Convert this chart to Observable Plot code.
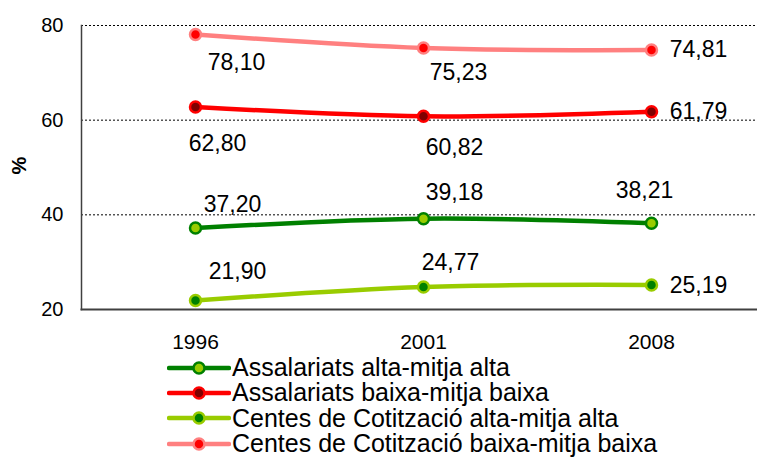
<!DOCTYPE html>
<html>
<head>
<meta charset="utf-8">
<script src="https://cdn.jsdelivr.net/npm/d3@7"></script>
<script src="https://cdn.jsdelivr.net/npm/@observablehq/plot@0.6"></script>
<style>
  html, body { margin: 0; padding: 0; background: #fff; }
  body { font-family: "Liberation Sans", Arial, sans-serif; width: 757px; height: 457px; overflow: hidden; }
  #legend { margin: 0; padding: 0; }
  .row { display: flex; align-items: center; height: 25.3px; font-size: 25px; line-height: 25px; color: #000; white-space: nowrap; }
  .row svg { margin-left: 167px; margin-right: 1px; flex: none; }
</style>
</head>
<body>
<div id="chart"></div>
<div id="legend"></div>
<script>
// ---- data ----
const years = ["1996", "2001", "2008"];
const seriesNames = [
  "Assalariats alta-mitja alta",
  "Assalariats baixa-mitja baixa",
  "Centes de Cotització alta-mitja alta",
  "Centes de Cotització baixa-mitja baixa"
];
const assalariatsAlta = [37.20, 39.18, 38.21];
const assalariatsBaixa = [62.80, 60.82, 61.79];
const centesAlta = [21.90, 24.77, 25.19];
const centesBaixa = [78.10, 75.23, 74.81];
const yTicks = [20, 40, 60, 80];

// ---- styles ----
const values = [assalariatsAlta, assalariatsBaixa, centesAlta, centesBaixa];
const lineColors = ["#008000", "#FF0000", "#99CC00", "#FF8080"];
const dotFills = ["#99CC00", "#800000", "#008000", "#FF0000"];
// label offsets (center of text relative to the point), per series per year
const labelOffsets = [
  [[37, -23], [31, -26], [-7, -33]],
  [[22, 37], [31, 31], [47, 0]],
  [[42, -29], [27, -24], [47, 1]],
  [[41, 28], [35, 25], [47, 0]]
];

const fmt = v => v.toFixed(2).replace(".", ",");

const marks = [];
marks.push(Plot.ruleY([40, 60, 80], {stroke: "#000", strokeWidth: 1, strokeDasharray: "2,2"}));
marks.push(Plot.frame({anchor: "left", stroke: "#404040", strokeWidth: 1.5}));
marks.push(Plot.frame({anchor: "bottom", stroke: "#404040", strokeWidth: 2}));

values.forEach((vals, i) => {
  const rows = years.map((y, j) => ({year: y, value: vals[j]}));
  marks.push(Plot.line(rows, {x: "year", y: "value", stroke: lineColors[i], strokeWidth: 4.5, curve: "catmull-rom"}));
});
values.forEach((vals, i) => {
  const rows = years.map((y, j) => ({year: y, value: vals[j]}));
  marks.push(Plot.dot(rows, {x: "year", y: "value", r: 5.5, fill: dotFills[i], stroke: lineColors[i], strokeWidth: 2.5}));
});
values.forEach((vals, i) => {
  years.forEach((y, j) => {
    const [dx, dy] = labelOffsets[i][j];
    marks.push(Plot.text([{year: y, value: vals[j]}], {
      x: "year", y: "value", text: d => fmt(d.value),
      dx, dy, textAnchor: "middle", lineAnchor: "middle", fontSize: 23, fill: "#000"
    }));
  });
});

marks.push(Plot.axisY({ticks: yTicks, tickSize: 0, tickPadding: 18, fontSize: 20, label: null, tickFormat: d => String(d)}));
marks.push(Plot.axisX({tickSize: 0, tickPadding: 25, fontSize: 21, label: null}));
marks.push(Plot.text(["%"], {frameAnchor: "left", dx: -62, dy: 7, rotate: -90, fontSize: 20, fontWeight: "bold", fill: "#000", text: d => d}));

const chart = Plot.plot({
  width: 757,
  height: 355,
  marginTop: 25,
  marginBottom: 46,
  marginLeft: 81,
  marginRight: -8,
  x: {type: "point", domain: years, padding: 0.5},
  y: {domain: [20, 80]},
  style: {fontFamily: "'Liberation Sans', Arial, sans-serif", color: "#000", background: "#fff", overflow: "hidden"},
  marks
});
document.getElementById("chart").appendChild(chart);

// legend
const legend = d3.select("#legend");
seriesNames.forEach((name, i) => {
  const row = legend.append("div").attr("class", "row");
  const svg = row.append("svg").attr("width", 64).attr("height", 16);
  svg.append("line").attr("x1", 2).attr("x2", 62).attr("y1", 8).attr("y2", 8)
    .attr("stroke", lineColors[i]).attr("stroke-width", 4.5).attr("stroke-linecap", "round");
  svg.append("circle").attr("cx", 32).attr("cy", 8).attr("r", 5.5)
    .attr("fill", dotFills[i]).attr("stroke", lineColors[i]).attr("stroke-width", 2.5);
  row.append("span").text(name);
});
</script>
</body>
</html>
